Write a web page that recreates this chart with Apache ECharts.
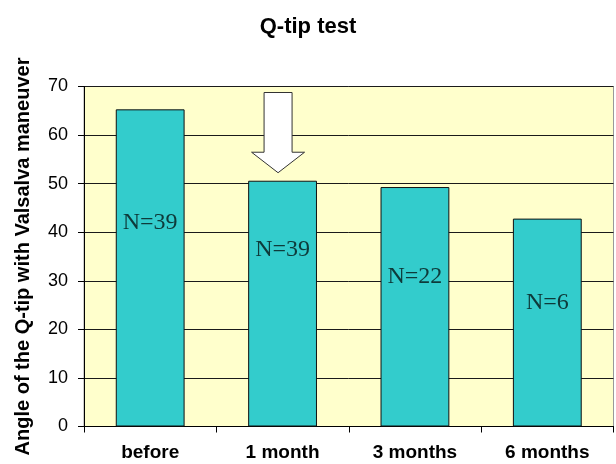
<!DOCTYPE html>
<html>
<head>
<meta charset="utf-8">
<script src="https://cdn.jsdelivr.net/npm/echarts@6/dist/echarts.min.js"></script>
<style>
html,body{margin:0;padding:0;background:#fff;}
#chart{width:616px;height:464px;}
</style>
</head>
<body>
<div id="chart"></div>
<script>
// ---- data ----
var categories = ['before', '1 month', '3 months', '6 months'];
var angleValues = [65.3, 50.6, 49.3, 42.8];
var nLabels = ['N=39', 'N=39', 'N=22', 'N=6'];
var nLabelLevels = [42.0, 36.4, 30.9, 25.5];
var yTicks = [0, 10, 20, 30, 40, 50, 60, 70];
var arrowCategory = '1 month';
var arrowValueIndex = 1;

var chart = echarts.init(document.getElementById('chart'), null, {renderer: 'canvas'});

var option = {
  backgroundColor: '#ffffff',
  animation: false,
  title: {
    text: 'Q-tip test',
    left: 'center',
    top: 11,
    textStyle: {fontFamily: 'Liberation Sans, Arial, sans-serif', fontWeight: 'bold', fontSize: 22, color: '#000'}
  },
  grid: {
    left: 84, right: 2.5, top: 86.5, bottom: 37.5,
    show: true, backgroundColor: '#FFFFCC', borderColor: '#9a9a9a', borderWidth: 1
  },
  xAxis: {
    type: 'category',
    data: categories,
    boundaryGap: true,
    axisLine: {show: true, lineStyle: {color: '#000', width: 1}},
    axisTick: {show: true, length: 6, inside: false, alignWithLabel: false, lineStyle: {color: '#000'}},
    axisLabel: {
      margin: 17,
      fontFamily: 'Liberation Sans, Arial, sans-serif', fontWeight: 'bold', fontSize: 19, color: '#000'
    },
    splitLine: {show: false}
  },
  yAxis: {
    type: 'value',
    min: yTicks[0], max: yTicks[yTicks.length - 1], interval: 10,
    name: 'Angle of the Q-tip with Valsalva maneuver',
    nameLocation: 'middle',
    nameGap: 51,
    nameTextStyle: {fontFamily: 'Liberation Sans, Arial, sans-serif', fontWeight: 'bold', fontSize: 20, color: '#000'},
    axisLine: {show: true, lineStyle: {color: '#000', width: 1}},
    axisTick: {show: true, length: 6, inside: false, lineStyle: {color: '#000'}},
    axisLabel: {margin: 16, fontFamily: 'Liberation Sans, Arial, sans-serif', fontSize: 18, color: '#000'},
    splitLine: {show: true, lineStyle: {color: '#1a1a1a', width: 1}}
  },
  series: [
    {
      type: 'bar',
      data: angleValues,
      barWidth: '52%',
      itemStyle: {color: '#33CCCC', borderColor: '#111', borderWidth: 1},
      z: 2
    },
    {
      type: 'scatter',
      data: nLabelLevels,
      symbolSize: 0,
      z: 5,
      silent: true,
      label: {
        show: true,
        position: 'inside',
        formatter: function (p) { return nLabels[p.dataIndex]; },
        fontFamily: 'Liberation Serif, Times New Roman, serif',
        fontSize: 24,
        color: '#051515'
      }
    }
  ]
};
chart.setOption(option);

// Arrow annotation pointing at the bar top (offsets in pixels relative to that bar)
var barTopPx = chart.convertToPixel({gridIndex: 0}, [arrowCategory, angleValues[arrowValueIndex]]);
var axisTopPx = chart.convertToPixel({gridIndex: 0}, [arrowCategory, yTicks[yTicks.length - 1]]);
var cx = barTopPx[0] - 4.5;
var tipY = barTopPx[1] - 8;
var headY = tipY - 20.5;
var shaftTop = axisTopPx[1] + 6;
var hw = 26.5, sw = 14;
chart.setOption({
  graphic: [{
    type: 'polygon',
    z: 10,
    shape: {points: [
      [cx - sw, shaftTop], [cx + sw, shaftTop], [cx + sw, headY], [cx + hw, headY],
      [cx, tipY], [cx - hw, headY], [cx - sw, headY]
    ]},
    style: {fill: '#ffffff', stroke: '#333333', lineWidth: 1}
  }]
});
</script>
</body>
</html>
